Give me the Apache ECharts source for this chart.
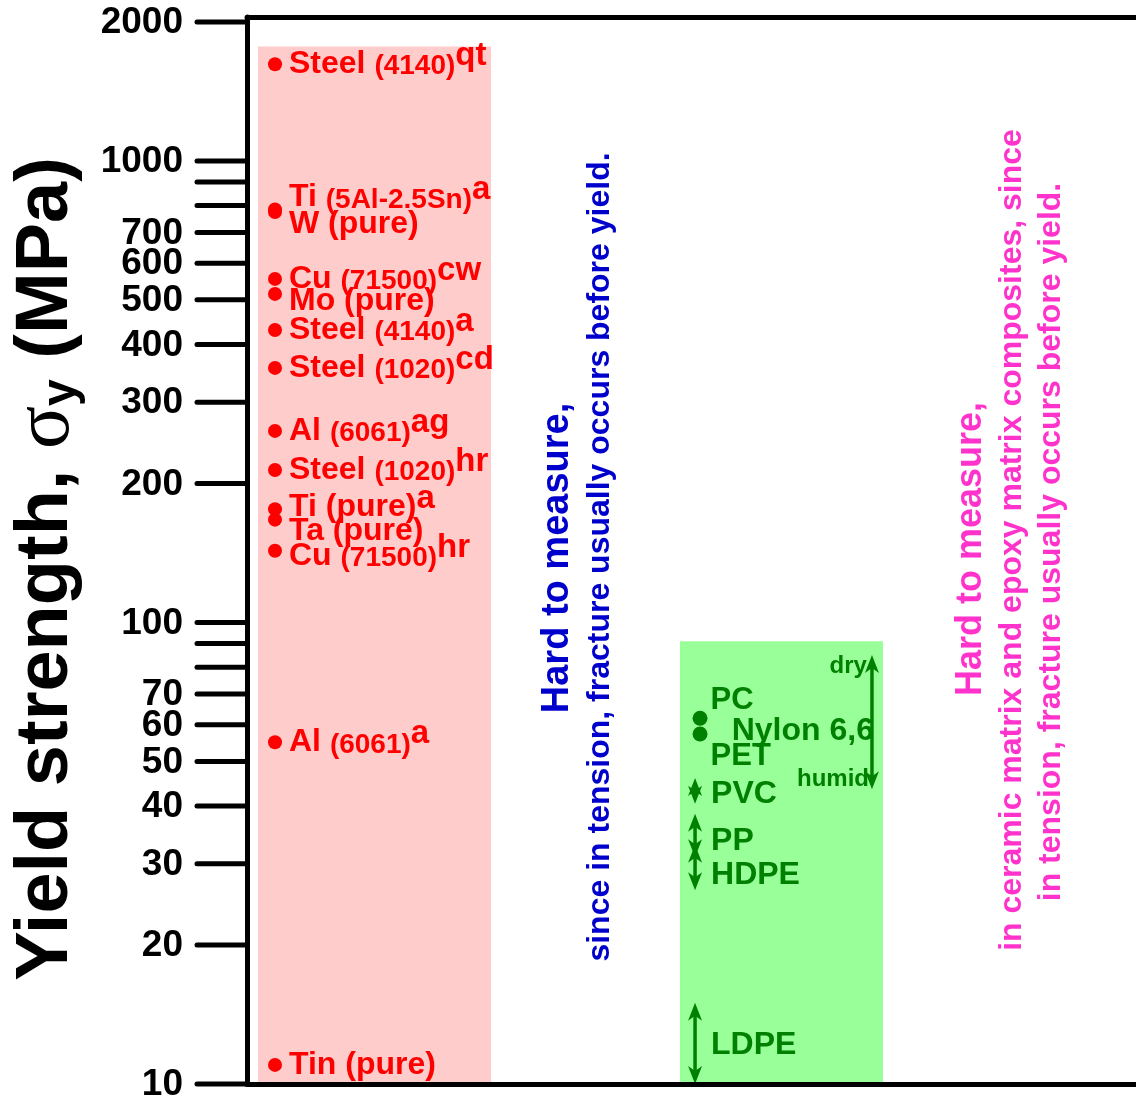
<!DOCTYPE html>
<html><head><meta charset="utf-8">
<script src="https://cdn.jsdelivr.net/npm/echarts@6/dist/echarts.min.js"></script>
<style>html,body{margin:0;padding:0;background:#fff}#c{width:1136px;height:1098px}</style>
</head><body><div id="c"></div>
<script>
// ---- data ----
const yTicks = [10,20,30,40,50,60,70,80,90,100,200,300,400,500,600,700,800,900,1000,2000];
const yTickLabels = ['10','20','30','40','50','60','70','','','100','200','300','400','500','600','700','','','1000','2000'];

const metalNames  = ['Steel','Ti','W','Cu','Mo','Steel','Steel','Al','Steel','Ti','Ta','Cu','Al','Tin'];
const metalSpecs  = ['(4140)','(5Al-2.5Sn)','(pure)','(71500)','(pure)','(4140)','(1020)','(6061)','(1020)','(pure)','(pure)','(71500)','(6061)','(pure)'];
const metalSups   = ['qt','a','','cw','','a','cd','ag','hr','a','','hr','a',''];
const metalValues = [1620,785,775,555,515,430,356,260,214,176,167,143,55,11];

const polymerPointNames  = ['PC','PET'];
const polymerPointValues = [62,57.3];

const polymerRangeNames = ['PVC','PP','HDPE','LDPE','Nylon 6,6'];
const polymerRangeLow   = [40.5,31,26.3,10,43.5];
const polymerRangeHigh  = [46,38.5,33,15,85];

const bandTops = [1770, 91]; // metals/alloys band, polymers band

// ---- layout / style (not data) ----
const FONT = 'Liberation Sans, Arial, Helvetica, sans-serif';
const RED = '#ff0000', GREEN = '#008000', BLUE = '#0000cc', MAGENTA = '#ff33cc';
const bandX = [[1.24, 27.45], [48.7, 71.54]];
const bandColors = ['#ffcccc', '#99ff99'];
const metalX = 3.15, polymerDotX = 50.96, arrowX = 50.4, nylonX = 70.3;
const metalLabelShift = [0,-12,12,0,7,0,0,0,0,-2,12,5,0,0];
const polyPointShift = [-18, 22];
const rangeLabelShift = [3,6,8,2,9];

const chart = echarts.init(document.getElementById('c'));

const metalData = metalValues.map((v,i)=>({value:[metalX, v], label:{offset:[0, metalLabelShift[i]]}}));
const polyPointData = polymerPointValues.map((v,i)=>({value:[polymerDotX, v], label:{offset:[0, polyPointShift[i]]}}));

function metalLabel(i){
  const n = metalNames[i], sp = metalSpecs[i], su = metalSups[i];
  let s = sp === '(pure)' ? '{m|' + n + ' (pure)}' : '{m|' + n + ' }{p|' + sp + '}';
  if (su) s += '{s|' + su + '}';
  return s;
}

function arrowHead(x, y, dir){ // dir -1 pointing up, +1 pointing down
  return {type:'polygon', shape:{points:[[x,y],[x-7,y-dir*18],[x,y-dir*13],[x+7,y-dir*18]]}, style:{fill:GREEN}};
}

const option = {
  animation:false,
  backgroundColor:'#fff',
  grid:{left:247, right:0, top:17, bottom:14},
  xAxis:[
    {type:'value', min:0, max:100, position:'bottom', z:10,
     axisLine:{show:true, lineStyle:{color:'#000', width:5}}, axisTick:{show:false}, axisLabel:{show:false}, splitLine:{show:false}},
    {type:'value', min:0, max:100, position:'top', z:10,
     axisLine:{show:true, lineStyle:{color:'#000', width:5}}, axisTick:{show:false}, axisLabel:{show:false}, splitLine:{show:false}}
  ],
  yAxis:{type:'log', logBase:10, min:10, max:2050, z:10,
    axisLine:{show:true, lineStyle:{color:'#000', width:5}}, axisTick:{show:false}, axisLabel:{show:false},
    splitLine:{show:false}, minorTick:{show:false}},
  graphic:[
    {type:'text', x:47, y:569, rotation:Math.PI/2, z:100,
     style:{text:'{t|Yield strength, }{g|σ}{sub|y}{t| (MPa)}', align:'center', verticalAlign:'middle', textAlign:'center', textVerticalAlign:'middle', fill:'#000',
       rich:{
         t:{fontSize:74, fontWeight:'bold', fontFamily:FONT, fill:'#000'},
         g:{fontSize:80, fontFamily:'Liberation Serif, Times New Roman, serif', fill:'#000'},
         sub:{fontSize:48, fontWeight:'bold', fontFamily:FONT, fill:'#000', padding:[30,0,0,0]}
       }}},
    {type:'text', x:558, y:558, rotation:Math.PI/2, z:100,
     style:{text:'Hard to measure,', font:'bold 38px '+FONT, fill:BLUE, align:'center', verticalAlign:'middle', textAlign:'center', textVerticalAlign:'middle'}},
    {type:'text', x:600, y:557, rotation:Math.PI/2, z:100,
     style:{text:'since in tension, fracture usually occurs before yield.', font:'bold 32px '+FONT, fill:BLUE, align:'center', verticalAlign:'middle', textAlign:'center', textVerticalAlign:'middle'}},
    {type:'text', x:971, y:549, rotation:Math.PI/2, z:100,
     style:{text:'Hard to measure,', font:'bold 36px '+FONT, fill:MAGENTA, align:'center', verticalAlign:'middle', textAlign:'center', textVerticalAlign:'middle'}},
    {type:'text', x:1012, y:540, rotation:Math.PI/2, z:100,
     style:{text:'in ceramic matrix and epoxy matrix composites, since', font:'bold 32px '+FONT, fill:MAGENTA, align:'center', verticalAlign:'middle', textAlign:'center', textVerticalAlign:'middle'}},
    {type:'text', x:1051, y:542, rotation:Math.PI/2, z:100,
     style:{text:'in tension, fracture usually occurs before yield.', font:'bold 32px '+FONT, fill:MAGENTA, align:'center', verticalAlign:'middle', textAlign:'center', textVerticalAlign:'middle'}}
  ],
  series:[
    { // background bands
      type:'custom', z:1, silent:true,
      data: bandTops.map((t,i)=>[bandX[i][0], bandX[i][1], t]),
      encode:{x:[0,1], y:2},
      renderItem:function(params, api){
        const p0 = api.coord([api.value(0), api.value(2)]);
        const p1 = api.coord([api.value(1), 10]);
        return {type:'rect', shape:{x:p0[0], y:p0[1], width:p1[0]-p0[0], height:p1[1]-p0[1]}, style:{fill:bandColors[params.dataIndex]}};
      }
    },
    { // y axis ticks and labels
      type:'custom', z:20, clip:false, silent:true,
      data: yTicks.map(v=>[0, v]),
      encode:{x:0, y:1},
      renderItem:function(params, api){
        const p = api.coord([0, api.value(1)]);
        const children = [{type:'line', shape:{x1:p[0]-50, y1:p[1], x2:p[0], y2:p[1]}, style:{stroke:'#000', lineWidth:5, lineCap:'round'}}];
        const lab = yTickLabels[params.dataIndex];
        if (lab) children.push({type:'text', x:p[0]-64, y:p[1]+1, style:{text:lab, font:'bold 37px '+FONT, fill:'#000', align:'right', verticalAlign:'middle', textAlign:'right', textVerticalAlign:'middle'}});
        return {type:'group', children:children};
      }
    },
    { // metals
      type:'scatter', z:5, symbol:'circle', symbolSize:14, itemStyle:{color:RED, opacity:1},
      data: metalData,
      label:{show:true, position:'right', distance:7, color:RED, opacity:1,
        formatter:function(p){ return metalLabel(p.dataIndex); },
        rich:{
          m:{fontSize:32, fontWeight:'bold', fontFamily:FONT, color:RED},
          p:{fontSize:28, fontWeight:'bold', fontFamily:FONT, color:RED, padding:[5,0,0,0]},
          s:{fontSize:33, fontWeight:'bold', fontFamily:FONT, color:RED, padding:[0,0,16,0]}
        }}
    },
    { // polymer points
      type:'scatter', z:5, symbol:'circle', symbolSize:15, itemStyle:{color:GREEN, opacity:1},
      data: polyPointData,
      label:{show:true, position:'right', distance:3, color:GREEN, opacity:1, fontSize:31, fontWeight:'bold', fontFamily:FONT,
        formatter:function(p){ return polymerPointNames[p.dataIndex]; }}
    },
    { // polymer ranges (double arrows)
      type:'custom', z:6, clip:false, silent:true,
      data: polymerRangeNames.map((n,i)=>[i===4 ? nylonX : arrowX, polymerRangeLow[i], polymerRangeHigh[i]]),
      encode:{x:0, y:[1,2]},
      renderItem:function(params, api){
        const i = params.dataIndex;
        const pt = api.coord([api.value(0), api.value(2)]);
        const pb = api.coord([api.value(0), api.value(1)]);
        const x = pt[0];
        const mid = (pt[1]+pb[1])/2;
        const ch = [
          {type:'line', shape:{x1:x, y1:pt[1]+6, x2:x, y2:pb[1]-6}, style:{stroke:GREEN, lineWidth:3.5}},
          arrowHead(x, pt[1], -1),
          arrowHead(x, pb[1], 1)
        ];
        const tf = 'bold 32px '+FONT;
        if (i < 4) {
          ch.push({type:'text', x:x+16, y:mid+rangeLabelShift[i], style:{text:polymerRangeNames[i], font:tf, fill:GREEN, align:'left', verticalAlign:'middle', textAlign:'left', textVerticalAlign:'middle'}});
        } else {
          ch.push({type:'text', x:x+2, y:mid+rangeLabelShift[i], style:{text:polymerRangeNames[i], font:tf, fill:GREEN, align:'right', verticalAlign:'middle', textAlign:'right', textVerticalAlign:'middle'}});
          ch.push({type:'text', x:x-5, y:pt[1]+11, style:{text:'dry', font:'bold 24px '+FONT, fill:GREEN, align:'right', verticalAlign:'middle', textAlign:'right', textVerticalAlign:'middle'}});
          ch.push({type:'text', x:x-3, y:pb[1]-10, style:{text:'humid', font:'bold 24px '+FONT, fill:GREEN, align:'right', verticalAlign:'middle', textAlign:'right', textVerticalAlign:'middle'}});
        }
        return {type:'group', children:ch};
      }
    }
  ]
};
chart.setOption(option);
</script></body></html>
